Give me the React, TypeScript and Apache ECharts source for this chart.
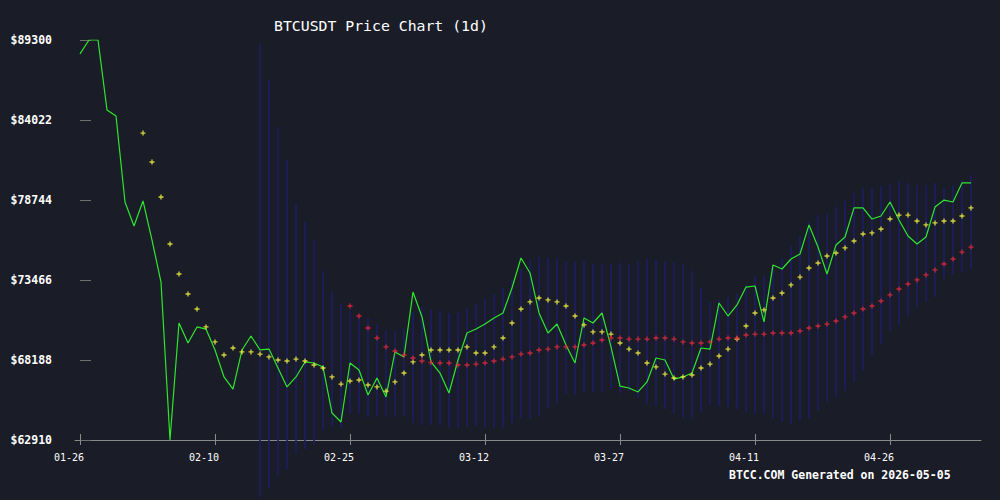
import React, { useEffect, useRef } from "react";
import * as echarts from "echarts";

// x index 0 = 01-26, one point per day through 05-05 (index 99)
const xTickIdx = [0, 15, 30, 45, 60, 75, 90];
const xTickLabels = ["01-26", "02-10", "02-25", "03-12", "03-27", "04-11", "04-26"];
const yTicks = [62910, 68188, 73466, 78744, 84022, 89300];

const close = [
  88380, 89300, 89300, 84680, 84290, 78610, 77030, 78680, 76100, 73330,
  62910, 70630, 69310, 70370, 70230, 68850, 67070, 66270, 68850, 69770,
  68850, 68910, 67660, 66410, 67070, 68060, 67990, 67730, 64690, 64100,
  67990, 67530, 65880, 67000, 65750, 68720, 68390, 72670, 71030, 68060,
  67330, 66010, 68190, 69970, 70230, 70560, 70960, 71290, 72940, 74920,
  73930, 71290, 69970, 70560, 69180, 67990, 70960, 70630, 71290, 69050,
  66470, 66340, 66080, 66740, 68320, 68190, 66930, 67070, 67330, 68980,
  68910, 71950, 71090, 71820, 73000, 73070, 70700, 74460, 74190, 74850,
  75180, 77100, 75640, 73860, 75780, 76300, 78220, 78220, 77490, 77690,
  78610, 77420, 76370, 75840, 76300, 78280, 78740, 78610, 79870, 79870,
];

// yellow MA, first value at index 7
const ma7Start = 7;
const ma7 = [
  83160, 81250, 78940, 75840, 73860, 72540, 71550, 70370, 69380, 68520,
  68980, 68720, 68720, 68580, 68390, 68190, 68120, 68250, 68120, 67860,
  67660, 67070, 66600, 66800, 66870, 66540, 66410, 66140, 66740, 67330,
  68060, 68520, 68850, 68850, 68850, 68850, 69050, 68650, 68650, 69050,
  69640, 70630, 71550, 72020, 72280, 72150, 72020, 71750, 71090, 70500,
  70040, 70040, 69900, 69310, 68910, 68650, 67990, 67730, 67260, 67000,
  67070, 67200, 67660, 67920, 68450, 68910, 69570, 70430, 71290, 71490,
  72280, 72610, 73140, 73660, 74260, 74590, 75050, 75250, 75580, 76040,
  76500, 76570, 76830, 77490, 77750, 77750, 77360, 77100, 77230, 77360,
  77360, 77690, 78220,
];

// red MA, first value at index 30
const ma30Start = 30;
const ma30 = [
  71750, 71090, 70300, 69640, 69050, 68780, 68520, 68320, 68120, 68020,
  67990, 67990, 67860, 67860, 67920, 67990, 68120, 68250, 68390, 68580,
  68650, 68850, 68910, 69050, 69050, 69050, 69180, 69310, 69510, 69640,
  69640, 69570, 69570, 69570, 69640, 69640, 69570, 69380, 69310, 69310,
  69380, 69570, 69640, 69640, 69840, 69900, 69900, 69970, 69970, 69970,
  70100, 70300, 70430, 70560, 70760, 71030, 71290, 71550, 71750, 72080,
  72480, 72870, 73200, 73470, 73800, 74130, 74520, 74850, 75310, 75640,
];

// band bars (upper / lower), first value at index 20
const bandStart = 20;
const bandUpper = [
  89040, 86660, 83560, 81380, 78550, 77290, 76110, 74060, 72670, 71880,
  71490, 71090, 70960, 70560, 70170, 70170, 70300, 71350, 71690, 71550,
  71420, 71290, 71350, 71620, 71880, 72210, 72540, 72940, 73470, 74190,
  74850, 74980, 74920, 74920, 74650, 74650, 74720, 74520, 74520, 74520,
  74590, 74520, 74720, 74850, 74790, 74720, 74650, 74520, 74060, 72940,
  72020, 72150, 72340, 72540, 73140, 73730, 73730, 74460, 74920, 75710,
  76370, 77290, 77750, 77820, 78280, 78680, 79210, 79540, 79540, 79670,
  79800, 80000, 79870, 79730, 79730, 79870, 79540, 79670, 80060, 80390,
];
const bandLower = [
  59150, 59740, 60600, 61000, 61990, 62320, 62580, 63570, 63830, 63700,
  64630, 64690, 64430, 64490, 64430, 64430, 64490, 64030, 63900, 63900,
  63900, 63700, 63700, 63770, 63830, 63770, 63700, 63700, 64030, 64360,
  64300, 64490, 65020, 65350, 65950, 65880, 66080, 66080, 66080, 66210,
  66010, 66140, 65680, 65290, 65150, 64960, 64630, 64360, 64300, 64760,
  65220, 65150, 65090, 64960, 64760, 64630, 64690, 64360, 64100, 63970,
  64160, 64300, 64820, 65420, 65750, 66140, 66740, 67530, 68520, 69240,
  70100, 70500, 71090, 71690, 72020, 72340, 73530, 73800, 73990, 74190,
];

const BG = "#1a1d28";
const MONO = "'DejaVu Sans Mono', 'Liberation Mono', monospace";
const PLUS = "path://M0,2.2H2.2V0H3.8V2.2H6V3.8H3.8V6H2.2V3.8H0Z";

export default function App() {
  const ref = useRef<HTMLDivElement>(null);

  useEffect(() => {
    if (!ref.current) return;
    const chart = echarts.init(ref.current, null, { renderer: "svg" });

    const closeData = close.map((v, i) => [i, v]);
    const ma7Data = ma7.map((v, i) => [i + ma7Start, v]);
    const ma30Data = ma30.map((v, i) => [i + ma30Start, v]);
    const bandData = bandUpper.map((u, i) => [i + bandStart, bandLower[i], u]);

    const xMin = -5 / 9;
    const xMax = 901 / 9;

    const option: any = {
      animation: false,
      backgroundColor: BG,
      title: {
        text: "BTCUSDT Price Chart (1d)",
        left: 269,
        top: 13,
        textStyle: {
          color: "#ffffff",
          fontFamily: MONO,
          fontSize: 14.8,
          fontWeight: "normal",
        },
      },
      grid: { left: 75, right: 19, top: 40, bottom: 60, containLabel: false },
      xAxis: [
        {
          type: "value",
          min: xMin,
          max: xMax,
          splitLine: { show: false },
          axisLine: { show: true, lineStyle: { color: "#8a8a8a", width: 1 } },
          axisTick: {
            show: true,
            length: 5,
            customValues: xTickIdx,
            lineStyle: { color: "#8a8a8a" },
          },
          axisLabel: {
            customValues: xTickIdx,
            color: "#ffffff",
            fontFamily: MONO,
            fontSize: 10,
            margin: 12,
            align: "center",
            padding: [0, 22, 0, 0],
            formatter: (v: number) => {
              const k = xTickIdx.indexOf(Math.round(v));
              return k >= 0 ? xTickLabels[k] : "";
            },
          },
        },
        {
          type: "value",
          min: xMin,
          max: xMax,
          position: "bottom",
          splitLine: { show: false },
          axisLine: { show: false },
          axisTick: {
            show: true,
            inside: true,
            length: 6,
            customValues: xTickIdx,
            lineStyle: { color: "#8a8a8a" },
          },
          axisLabel: { show: false },
        },
      ],
      yAxis: {
        type: "value",
        min: yTicks[0],
        max: yTicks[yTicks.length - 1],
        splitLine: { show: false },
        axisLine: { show: false },
        axisTick: {
          show: true,
          inside: true,
          length: 11,
          customValues: yTicks,
          lineStyle: { color: "#6f6f6f" },
        },
        axisLabel: {
          customValues: yTicks,
          color: "#ffffff",
          fontFamily: MONO,
          fontSize: 11.5,
          fontWeight: "bold",
          margin: 23,
          formatter: (v: number) => "$" + Math.round(v),
        },
      },
      series: [
        {
          type: "custom",
          name: "band",
          clip: false,
          data: bandData,
          encode: { x: 0, y: [1, 2] },
          z: 1,
          renderItem: (params: any, api: any) => {
            const x = api.value(0);
            const lo = api.coord([x, api.value(1)]);
            const hi = api.coord([x, api.value(2)]);
            return {
              type: "rect",
              shape: { x: lo[0] - 0.8, y: hi[1], width: 1.6, height: lo[1] - hi[1] },
              style: { fill: "#1b1e63" },
            };
          },
        },
        {
          type: "line",
          name: "close",
          data: closeData,
          showSymbol: false,
          symbol: "none",
          z: 3,
          lineStyle: { color: "#2ee62e", width: 1.2 },
        },
        {
          type: "scatter",
          name: "ma7",
          data: ma7Data,
          symbol: PLUS,
          symbolSize: 5,
          z: 4,
          itemStyle: { color: "#ffff40" },
        },
        {
          type: "scatter",
          name: "ma30",
          data: ma30Data,
          symbol: PLUS,
          symbolSize: 5,
          z: 4,
          itemStyle: { color: "#f0283c" },
        },
      ],
      graphic: [
        {
          type: "text",
          left: 729,
          top: 469,
          style: {
            text: "BTCC.COM Generated on 2026-05-05",
            fill: "#ffffff",
            font: "bold 11.5px " + MONO,
          },
        },
      ],
    };

    chart.setOption(option);
    return () => chart.dispose();
  }, []);

  return (
    <div
      ref={ref}
      style={{ position: "fixed", left: 0, top: 0, width: 1000, height: 500 }}
    />
  );
}
